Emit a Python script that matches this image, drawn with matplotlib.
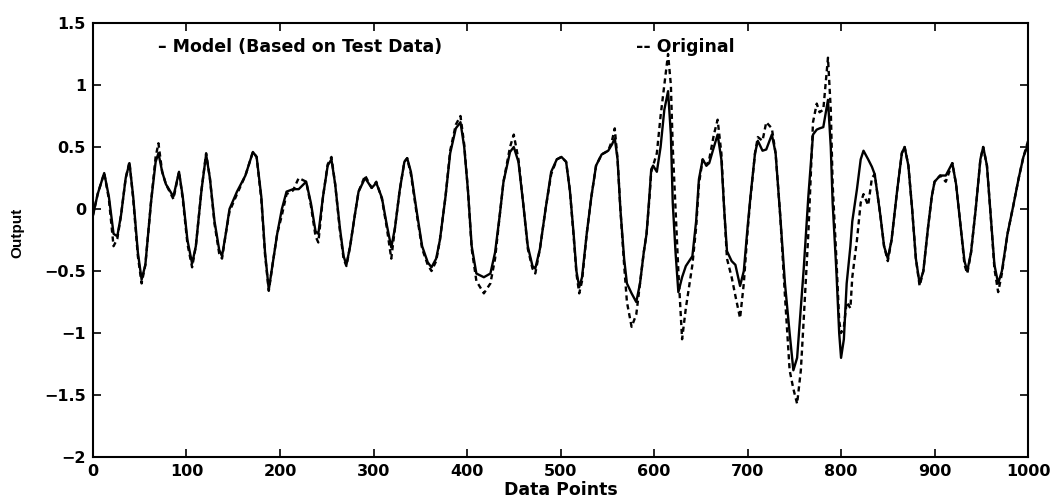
import matplotlib
matplotlib.use("Agg")
import matplotlib.pyplot as plt

# ---- data ----
data_x = [0, 5, 12, 17, 22, 26, 30, 35, 39, 43, 48, 52, 56, 62, 67, 70, 74, 78, 86, 92,
          96, 101, 106, 110, 116, 121, 125, 130, 135, 138, 142, 146, 154, 163, 171, 175, 180, 184, 188, 192,
          197, 202, 207, 214, 220, 228, 233, 238, 241, 246, 251, 255, 259, 264, 268, 271, 275, 280, 284, 291,
          298, 303, 309, 314, 319, 323, 328, 333, 336, 340, 346, 352, 358, 362, 367, 371, 377, 382, 388, 393,
          397, 401, 405, 410, 418, 425, 430, 435, 439, 446, 450, 455, 460, 465, 470, 473, 478, 484, 490, 496,
          501, 506, 510, 514, 517, 520, 523, 528, 533, 538, 544, 551, 555, 558, 561, 564, 568, 571, 576, 581,
          585, 589, 592, 595, 597, 599, 603, 607, 611, 615, 618, 620, 623, 626, 630, 634, 641, 645, 648, 652,
          656, 659, 664, 668, 672, 675, 678, 683, 687, 692, 696, 700, 703, 708, 711, 716, 720, 726, 730, 735,
          740, 745, 749, 753, 757, 760, 765, 770, 774, 777, 781, 786, 789, 791, 795, 798, 800, 803, 806, 810,
          812, 817, 821, 824, 829, 833, 836, 842, 846, 850, 854, 860, 865, 868, 872, 876, 880, 884, 888, 893,
          897, 900, 906, 912, 919, 923, 928, 932, 935, 939, 944, 949, 952, 956, 960, 964, 968, 972, 978, 984,
          990, 995, 1000]

model_y = [-0.05, 0.12, 0.29, 0.10, -0.20, -0.22, -0.05, 0.25, 0.37, 0.10, -0.35, -0.57, -0.45, 0.05, 0.38, 0.45, 0.30, 0.20, 0.10, 0.30,
           0.10, -0.25, -0.44, -0.30, 0.15, 0.44, 0.25, -0.10, -0.33, -0.38, -0.20, 0.00, 0.14, 0.27, 0.46, 0.42, 0.10, -0.35, -0.65, -0.45,
           -0.20, 0.00, 0.14, 0.16, 0.16, 0.22, 0.05, -0.18, -0.20, 0.10, 0.35, 0.40, 0.20, -0.15, -0.38, -0.45, -0.30, -0.05, 0.14, 0.25,
           0.17, 0.21, 0.09, -0.12, -0.31, -0.15, 0.15, 0.38, 0.41, 0.30, -0.01, -0.30, -0.43, -0.47, -0.40, -0.25, 0.10, 0.45, 0.65, 0.70,
           0.50, 0.15, -0.30, -0.52, -0.55, -0.52, -0.35, -0.05, 0.22, 0.46, 0.50, 0.38, 0.05, -0.30, -0.46, -0.48, -0.32, 0.00, 0.30, 0.40,
           0.42, 0.38, 0.15, -0.20, -0.50, -0.63, -0.55, -0.20, 0.10, 0.35, 0.44, 0.47, 0.52, 0.57, 0.40, 0.00, -0.40, -0.60, -0.68, -0.75,
           -0.60, -0.35, -0.20, 0.10, 0.32, 0.35, 0.30, 0.50, 0.80, 0.95, 0.60, 0.05, -0.35, -0.67, -0.55, -0.46, -0.38, -0.10, 0.24, 0.40,
           0.35, 0.37, 0.50, 0.60, 0.40, 0.00, -0.34, -0.42, -0.45, -0.62, -0.50, -0.15, 0.09, 0.45, 0.55, 0.47, 0.48, 0.60, 0.45, -0.06,
           -0.60, -1.00, -1.30, -1.20, -0.80, -0.49, 0.10, 0.60, 0.64, 0.65, 0.66, 0.88, 0.50, 0.05, -0.50, -1.00, -1.20, -1.05, -0.60, -0.30,
           -0.10, 0.16, 0.40, 0.47, 0.40, 0.34, 0.28, -0.05, -0.30, -0.40, -0.25, 0.15, 0.45, 0.50, 0.35, 0.00, -0.40, -0.60, -0.50, -0.15,
           0.10, 0.22, 0.27, 0.27, 0.37, 0.20, -0.15, -0.42, -0.50, -0.35, 0.00, 0.40, 0.50, 0.35, -0.05, -0.45, -0.60, -0.50, -0.20, 0.02,
           0.25, 0.42, 0.52]

original_y = [-0.05, 0.12, 0.29, 0.08, -0.30, -0.24, -0.05, 0.25, 0.38, 0.08, -0.38, -0.60, -0.45, 0.05, 0.42, 0.53, 0.30, 0.20, 0.08, 0.30,
              0.08, -0.28, -0.47, -0.30, 0.15, 0.45, 0.25, -0.12, -0.36, -0.40, -0.20, -0.02, 0.12, 0.27, 0.46, 0.42, 0.08, -0.37, -0.66, -0.45,
              -0.20, -0.05, 0.12, 0.15, 0.25, 0.22, 0.03, -0.22, -0.27, 0.10, 0.36, 0.42, 0.20, -0.17, -0.40, -0.46, -0.30, -0.05, 0.14, 0.27,
              0.17, 0.22, 0.08, -0.14, -0.40, -0.15, 0.15, 0.38, 0.41, 0.28, -0.03, -0.32, -0.45, -0.50, -0.42, -0.25, 0.10, 0.47, 0.68, 0.75,
              0.52, 0.15, -0.32, -0.58, -0.68, -0.60, -0.40, -0.05, 0.22, 0.50, 0.60, 0.40, 0.05, -0.32, -0.48, -0.52, -0.32, 0.00, 0.28, 0.40,
              0.42, 0.38, 0.15, -0.22, -0.52, -0.68, -0.58, -0.20, 0.10, 0.35, 0.44, 0.47, 0.55, 0.65, 0.40, 0.00, -0.45, -0.75, -0.95, -0.85,
              -0.60, -0.35, -0.20, 0.08, 0.30, 0.35, 0.45, 0.75, 1.00, 1.25, 1.00, 0.50, 0.00, -0.50, -1.05, -0.80, -0.45, -0.15, 0.20, 0.40,
              0.35, 0.40, 0.60, 0.72, 0.45, 0.00, -0.40, -0.55, -0.70, -0.88, -0.60, -0.18, 0.08, 0.45, 0.58, 0.55, 0.70, 0.65, 0.45, -0.06,
              -0.70, -1.30, -1.45, -1.57, -1.30, -0.90, -0.20, 0.70, 0.85, 0.78, 0.80, 1.22, 0.80, 0.20, -0.40, -0.90, -1.00, -0.95, -0.75, -0.80,
              -0.55, -0.25, 0.05, 0.12, 0.03, 0.25, 0.28, -0.05, -0.30, -0.42, -0.25, 0.15, 0.45, 0.50, 0.35, 0.00, -0.40, -0.62, -0.50, -0.15,
              0.10, 0.22, 0.27, 0.22, 0.37, 0.20, -0.15, -0.45, -0.52, -0.35, 0.00, 0.40, 0.50, 0.35, -0.05, -0.48, -0.67, -0.52, -0.20, 0.02,
              0.25, 0.42, 0.55]

x_ticks = [0, 100, 200, 300, 400, 500, 600, 700, 800, 900, 1000]
y_ticks = [-2, -1.5, -1, -0.5, 0, 0.5, 1, 1.5]
y_tick_labels = ["\u22122", "\u22121.5", "\u22121", "\u22120.5", "0", "0.5", "1", "1.5"]

# ---- figure ----
plt.rcParams['font.family'] = ['DejaVu Sans']
fig = plt.figure(figsize=(10.59, 4.99), dpi=100)
ax = fig.add_axes([0.0878, 0.084, 0.883, 0.870])

ax.plot(data_x, original_y, color='black', lw=1.7, linestyle=(0, (2.2, 1.6)))
ax.plot(data_x, model_y, color='black', lw=1.7, linestyle='-')

ax.set_xlim(0, 1000)
ax.set_ylim(-2, 1.5)
ax.set_xticks(x_ticks)
ax.set_yticks(y_ticks)
ax.set_yticklabels(y_tick_labels)
ax.tick_params(direction='in', top=True, right=True, length=6, width=1.2,
               labelsize=11.5, pad=5)
for lab in ax.get_xticklabels() + ax.get_yticklabels():
    lab.set_fontweight('bold')
for s in ax.spines.values():
    s.set_linewidth(1.5)

ax.set_xlabel("Data Points", fontsize=12.5, fontweight='bold', va='center')
ax.xaxis.set_label_coords(0.5, -0.076)
ax.set_ylabel("Output", fontsize=11, fontweight='bold', family='Liberation Sans',
              va='center')
ax.yaxis.set_label_coords(-0.081, 0.516)

ax.text(0.0695, 0.945, "\u2013 Model (Based on Test Data)", transform=ax.transAxes,
        fontsize=12.5, fontweight='bold', va='center', ha='left')
ax.text(0.581, 0.945, "-- Original", transform=ax.transAxes,
        fontsize=12.5, fontweight='bold', va='center', ha='left')

fig.savefig("out.png", dpi=100)
